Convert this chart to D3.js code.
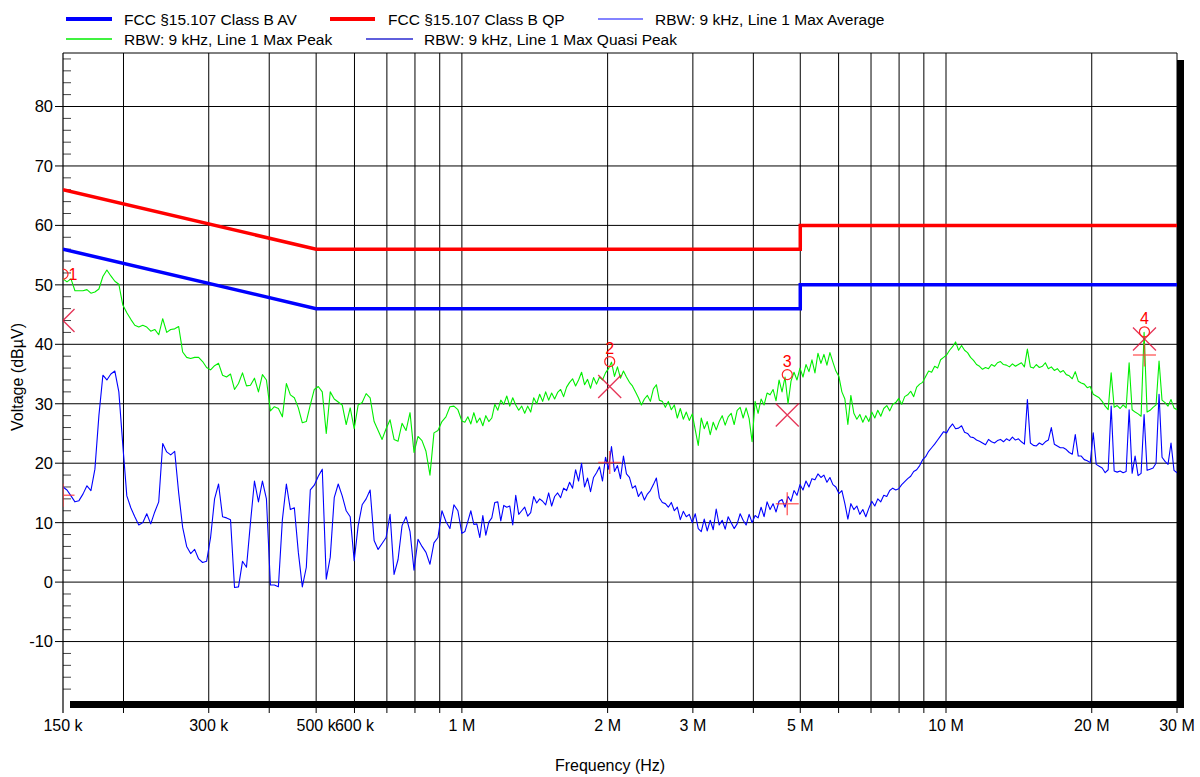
<!DOCTYPE html>
<html>
<head>
<meta charset="utf-8">
<script src="https://cdn.jsdelivr.net/npm/d3@7"></script>
<style>
  html, body { margin: 0; padding: 0; background: #fff; }
  svg text { font-family: "Liberation Sans", Arial, Helvetica, sans-serif; fill: #000; }
</style>
</head>
<body>
<svg id="chart" width="1200" height="777"></svg>
<script>
// ---- receiver sweep: two log-spaced bands (MHz) ----
const lowBandStartMHz = 0.15;
const lowBandStopMHz = 1;
const highBandStartMHz = 1;
const highBandStopMHz = 30;

// RBW 9 kHz, Line 1, max peak detector (dBµV), 150 kHz - 1 MHz
const peakLow = [
  51.0, 50.5, 51.0, 49.0, 49.0, 49.0, 49.2, 48.6, 48.8, 49.3,
  51.4, 52.5, 51.5, 50.6, 50.1, 46.6, 45.3, 44.2, 43.2, 42.9,
  43.2, 42.9, 42.2, 42.5, 41.6, 44.3, 42.0, 42.5, 42.6, 43.0,
  38.7, 37.8, 37.6, 37.8, 37.8, 37.1, 36.1, 35.7, 36.4, 36.8,
  34.8, 34.5, 35.0, 32.4, 33.4, 35.2, 33.0, 33.1, 34.3, 32.0,
  34.9, 34.0, 28.8, 29.5, 29.2, 27.8, 33.4, 31.5, 31.0, 29.3,
  26.8, 27.0, 29.8, 32.4, 32.9, 32.0, 25.0, 32.0, 30.8, 30.3,
  29.8, 26.5, 29.3, 25.8, 29.8, 30.2, 31.7, 31.0, 27.0, 25.5,
  24.0, 25.8, 27.3, 24.0, 23.7, 26.7, 25.5, 28.5, 21.8, 24.5,
  23.8, 22.0, 18.0, 25.1, 25.5, 27.0, 27.8, 29.5, 29.6, 29.0,
  27.1
];

// max peak, 1 MHz - 30 MHz
const peakHigh = [
  28.0, 26.9, 27.8, 26.6, 28.5, 26.8, 27.6, 26.3, 28.0, 27.0,
  27.6, 29.9, 28.9, 30.6, 29.9, 31.3, 29.6, 31.0, 29.8, 28.9,
  29.6, 28.4, 29.6, 28.6, 31.0, 30.0, 31.6, 30.4, 32.0, 30.6,
  31.8, 30.8, 31.9, 32.4, 31.2, 32.8, 33.6, 34.2, 33.0, 34.0,
  35.3, 33.2, 34.1, 32.6, 34.4, 33.3, 34.5, 34.0, 35.2, 35.9,
  37.0, 34.6, 36.2, 34.3, 35.5, 34.5, 33.6, 33.0, 32.0, 31.0,
  29.8, 30.8, 31.4, 30.4, 32.5, 33.2, 30.6, 30.4, 29.4, 30.4,
  29.0, 29.8, 27.6, 29.2, 27.4, 28.6, 27.2, 28.3, 25.6, 23.0,
  27.6, 25.8, 27.0, 24.8, 26.9, 25.6, 27.0, 28.0, 26.4, 27.8,
  28.4, 26.5, 28.9, 29.4, 27.6, 29.3, 27.5, 23.6, 30.4, 28.4,
  30.8, 29.8, 31.8, 31.5, 32.4, 30.5, 34.0, 32.0, 34.5, 30.0,
  33.8, 35.3, 34.0, 36.0, 34.5, 36.6, 35.4, 37.4, 35.2, 38.5,
  36.8, 38.3, 36.5, 38.6, 37.0, 35.5, 34.6, 32.0, 30.8, 26.5,
  31.4, 28.4, 27.4, 28.2, 26.9, 28.0, 27.0, 28.6, 27.6, 28.9,
  27.9, 29.2, 29.7, 28.8, 29.9, 30.2, 30.9, 29.9, 31.2, 31.5,
  32.1, 31.2, 32.8, 33.3, 33.6, 34.6, 35.5, 35.3, 36.3, 36.0,
  37.4, 37.8, 38.2, 39.0, 39.6, 40.4, 39.0, 39.8, 39.0, 38.6,
  37.8, 37.3, 36.6, 36.3, 35.8, 36.1, 35.9, 36.6, 36.3, 36.9,
  37.1, 36.6, 36.5, 36.2, 36.7, 36.3, 36.6, 36.9, 36.2, 39.2,
  36.2, 36.0, 36.6, 36.1, 36.3, 36.9, 35.9, 36.2, 35.6, 35.9,
  35.3, 35.6, 34.9, 34.7, 34.2, 35.4, 33.8, 33.5, 33.3, 32.7,
  32.9, 31.6, 31.3, 31.0, 30.4, 29.6, 29.0, 35.2, 29.4, 29.7,
  29.2, 29.8, 29.3, 36.9, 29.0, 28.6, 28.3, 27.9, 42.0, 28.6,
  28.9, 29.4, 29.8, 37.2, 30.6, 30.2, 29.6, 30.7, 29.3, 29.0
];

// RBW 9 kHz, Line 1, max average detector (dBµV), 150 kHz - 1 MHz
const averageLow = [
  16.0, 15.5, 14.5, 13.5, 13.7, 14.8, 16.2, 15.4, 19.0, 28.0,
  34.8, 34.0, 35.0, 35.5, 32.0, 23.0, 14.5, 12.5, 11.0, 9.6,
  10.0, 11.5, 9.8, 11.8, 13.5, 23.3, 21.9, 21.4, 22.0, 15.0,
  9.2, 6.0, 4.8, 5.5, 3.9, 3.3, 3.5, 7.5, 14.0, 16.5,
  11.0, 10.8, 10.5, -0.9, -0.8, 3.5, 2.5, 10.0, 17.0, 13.5,
  17.0, 14.0, -0.5, -0.5, -0.8, 10.5, 16.5, 12.2, 12.5, 5.0,
  -0.8, 2.5, 15.5, 16.3, 17.8, 19.0, 0.5, 4.2, 14.2, 16.5,
  14.5, 12.0, 11.0, 3.6, 9.5, 13.0, 14.0, 15.5, 7.0, 5.5,
  6.5, 7.5, 11.4, 1.3, 3.8, 9.5, 11.0, 8.5, 2.0, 7.2,
  6.0, 5.0, 3.0, 6.6, 7.5, 12.0, 10.2, 9.0, 13.0, 12.0,
  8.2
];

// max average, 1 MHz - 30 MHz
const averageHigh = [
  10.0, 8.5, 10.2, 12.0, 9.7, 9.8, 7.5, 11.2, 7.9, 10.1,
  10.8, 13.4, 13.5, 10.3, 12.9, 12.6, 12.8, 9.6, 14.6, 11.4,
  12.0, 12.6, 11.1, 11.7, 14.4, 13.3, 14.0, 13.6, 13.0, 15.0,
  12.8, 14.4, 15.0, 14.2, 15.8, 15.4, 16.8, 15.8, 18.9, 17.0,
  20.0, 16.0, 17.5, 15.2, 17.6, 18.4, 19.4, 17.0, 21.0, 19.0,
  22.8, 18.6, 19.6, 17.4, 21.2, 18.2, 17.6, 15.8, 16.2, 14.4,
  15.2, 13.8, 14.8, 15.4, 16.4, 17.5, 14.2, 13.4, 13.2, 12.6,
  13.4, 12.0, 12.6, 10.5, 11.9, 11.0, 11.4, 10.0, 11.5, 9.0,
  8.5, 10.6, 8.6, 10.4, 8.8, 12.3, 9.6, 10.4, 8.9, 11.0,
  10.0, 9.0, 9.8, 11.5, 10.4, 9.6, 11.4, 10.0, 11.2, 10.8,
  12.6, 11.0, 13.5, 12.2, 13.2, 11.8, 13.6, 13.9, 12.6, 14.4,
  13.6, 15.4, 14.6, 16.4, 15.5, 17.0, 16.0, 17.4, 17.2, 18.2,
  17.6, 18.0, 16.8, 17.6, 16.4, 16.0, 14.9, 15.4, 13.2, 10.6,
  13.2, 12.2, 12.8, 11.4, 12.2, 11.0, 12.4, 13.6, 12.8, 14.0,
  13.5, 14.6, 14.4, 15.4, 15.8, 15.5, 15.7, 16.4, 16.9, 17.4,
  17.8, 18.6, 18.9, 19.6, 20.6, 21.1, 22.0, 22.6, 23.2, 23.9,
  24.6, 25.3, 25.1, 26.0, 26.6, 25.8, 25.9, 26.3, 25.2, 25.0,
  24.4, 24.3, 23.9, 23.7, 23.4, 23.1, 24.0, 23.6, 23.4, 23.8,
  24.0, 23.6, 24.1, 23.8, 24.4, 23.9, 24.1, 23.6, 23.2, 30.7,
  23.4, 23.0, 22.9, 23.4, 23.1, 23.6, 23.9, 26.0, 23.2, 22.9,
  22.6, 22.6, 22.3, 21.8, 21.5, 24.8, 21.2, 21.2, 20.6, 20.4,
  20.1, 25.1, 19.8, 19.5, 19.2, 18.4, 18.9, 29.6, 18.7, 18.5,
  18.7, 18.4, 18.6, 29.0, 18.3, 21.2, 17.9, 18.3, 28.2, 18.8,
  19.0, 19.2, 20.0, 31.6, 21.0, 20.3, 19.8, 23.4, 18.8, 18.4
];

// FCC §15.107 Class B limits (breakpoints, MHz / dBµV)
const avLimitFreqs = [0.15, 0.5, 5, 5, 30];
const avLimitDb    = [56, 46, 46, 50, 50];
const qpLimitFreqs = [0.15, 0.5, 5, 5, 30];
const qpLimitDb    = [66, 56, 56, 60, 60];

// Markers: peak (circle), quasi-peak (cross), average (plus)
const markerIds    = ["1", "2", "3", "4"];
const markerFreqs  = [0.15, 2.02, 4.70, 25.7];
const markerPeakDb = [51.8, 37.1, 34.9, 42.1];
const markerQpDb   = [44.0, 32.9, 28.1, 40.9];
const markerAvgDb  = [14.6, 20.1, 13.2, 38.2];

// Axes
const xGridFreqs  = [0.2, 0.3, 0.4, 0.5, 0.6, 0.7, 0.8, 0.9, 1, 2, 3, 4, 5, 6, 7, 8, 9, 10, 20, 30];
const xLabelFreqs = [0.15, 0.3, 0.5, 0.6, 1, 2, 3, 5, 10, 20, 30];
const xLabelTexts = ["150 k", "300 k", "500 k", "600 k", "1 M", "2 M", "3 M", "5 M", "10 M", "20 M", "30 M"];
const yMajorTicks = [-10, 0, 10, 20, 30, 40, 50, 60, 70, 80];
const yMinorTicks = [-18, -16, -14, -12, -8, -6, -4, -2, 2, 4, 6, 8, 12, 14, 16, 18, 22, 24, 26, 28,
                     32, 34, 36, 38, 42, 44, 46, 48, 52, 54, 56, 58, 62, 64, 66, 68, 72, 74, 76, 78,
                     82, 84, 86, 88];

// ---- layout ----
const plot = { left: 63, top: 53, right: 1177, bottom: 701 };
const shadowOffset = 7;

const svg = d3.select("#chart");

const x = d3.scaleLog().domain([lowBandStartMHz, highBandStopMHz]).range([plot.left, plot.right]);
const y = d3.scaleLinear().domain([-20, 89]).range([plot.bottom, plot.top]);

// sample frequencies of a log-spaced band
function bandFreqs(start, stop, n) {
  return d3.range(n).map(i => start * Math.pow(stop / start, i / (n - 1)));
}
function bandPoints(start, stop, values) {
  const f = bandFreqs(start, stop, values.length);
  return values.map((v, i) => [f[i], v]);
}
const peakPoints = bandPoints(lowBandStartMHz, lowBandStopMHz, peakLow)
  .concat(bandPoints(highBandStartMHz, highBandStopMHz, peakHigh).slice(1));
const averagePoints = bandPoints(lowBandStartMHz, lowBandStopMHz, averageLow)
  .concat(bandPoints(highBandStartMHz, highBandStopMHz, averageHigh).slice(1));

// drop shadow and plot background
svg.append("rect")
  .attr("x", plot.left + shadowOffset).attr("y", plot.top + shadowOffset)
  .attr("width", plot.right - plot.left).attr("height", plot.bottom - plot.top)
  .attr("fill", "#000");
svg.append("rect")
  .attr("x", plot.left).attr("y", plot.top)
  .attr("width", plot.right - plot.left).attr("height", plot.bottom - plot.top)
  .attr("fill", "#fff");

svg.append("clipPath").attr("id", "plotClip")
  .append("rect")
  .attr("x", plot.left).attr("y", plot.top)
  .attr("width", plot.right - plot.left).attr("height", plot.bottom - plot.top);

// grid
const grid = svg.append("g");
grid.selectAll("line.h").data(yMajorTicks).join("line")
  .attr("x1", plot.left).attr("x2", plot.right)
  .attr("y1", d => y(d)).attr("y2", d => y(d))
  .attr("stroke", "#000").attr("stroke-width", 1);
grid.selectAll("line.v").data(xGridFreqs).join("line")
  .attr("x1", d => x(d)).attr("x2", d => x(d))
  .attr("y1", plot.top).attr("y2", plot.bottom + 12)
  .attr("stroke", "#000").attr("stroke-width", 1);

// y minor ticks (inside)
grid.selectAll("line.ym").data(yMinorTicks).join("line")
  .attr("x1", plot.left).attr("x2", plot.left + 8)
  .attr("y1", d => y(d)).attr("y2", d => y(d))
  .attr("stroke", "#444").attr("stroke-width", 1);

// frame
svg.append("line")
  .attr("x1", plot.left).attr("x2", plot.right)
  .attr("y1", plot.top).attr("y2", plot.top)
  .attr("stroke", "#000").attr("stroke-width", 1);
svg.append("line")
  .attr("x1", plot.left).attr("x2", plot.left)
  .attr("y1", plot.top).attr("y2", plot.bottom + 12)
  .attr("stroke", "#000").attr("stroke-width", 1.2);

// y axis: major ticks outside + labels
const yAxis = svg.append("g");
yAxis.selectAll("line").data(yMajorTicks).join("line")
  .attr("x1", plot.left - 8).attr("x2", plot.left)
  .attr("y1", d => y(d)).attr("y2", d => y(d))
  .attr("stroke", "#000").attr("stroke-width", 1);
yAxis.selectAll("text").data(yMajorTicks).join("text")
  .attr("x", plot.left - 10).attr("y", d => y(d))
  .attr("dy", "0.36em")
  .attr("text-anchor", "end")
  .attr("font-size", "16.5px")
  .text(d => d);

// x axis labels
svg.append("g").selectAll("text").data(xLabelFreqs).join("text")
  .attr("x", d => x(d)).attr("y", 731)
  .attr("text-anchor", "middle")
  .attr("font-size", "16px")
  .text((d, i) => xLabelTexts[i]);

// axis titles
svg.append("text")
  .attr("transform", `translate(23, ${(plot.top + plot.bottom) / 2}) rotate(-90)`)
  .attr("text-anchor", "middle")
  .attr("font-size", "16px")
  .text("Voltage (dBµV)");
svg.append("text")
  .attr("x", 610).attr("y", 771)
  .attr("text-anchor", "middle")
  .attr("font-size", "16px")
  .text("Frequency (Hz)");

// data layer
const data = svg.append("g").attr("clip-path", "url(#plotClip)");
const traceLine = d3.line().x(d => x(d[0])).y(d => y(d[1]));

data.append("path")
  .datum(peakPoints)
  .attr("d", traceLine)
  .attr("fill", "none").attr("stroke", "#00ee00").attr("stroke-width", 1.1)
  .attr("stroke-linejoin", "round");
data.append("path")
  .datum(averagePoints)
  .attr("d", traceLine)
  .attr("fill", "none").attr("stroke", "#0000ff").attr("stroke-width", 1.1)
  .attr("stroke-linejoin", "round");

data.append("path")
  .datum(avLimitFreqs.map((f, i) => [f, avLimitDb[i]]))
  .attr("d", traceLine)
  .attr("fill", "none").attr("stroke", "#0000ff").attr("stroke-width", 3.5);
data.append("path")
  .datum(qpLimitFreqs.map((f, i) => [f, qpLimitDb[i]]))
  .attr("d", traceLine)
  .attr("fill", "none").attr("stroke", "#ff0000").attr("stroke-width", 3.5);

// markers
const arm = 11.5;
const markers = markerIds.map((id, i) => ({
  id, f: markerFreqs[i], pk: markerPeakDb[i], qp: markerQpDb[i], av: markerAvgDb[i]
}));
const mk = data.append("g");
markers.forEach(m => {
  const mx = x(m.f);
  // average: plus
  mk.append("path")
    .attr("d", `M${mx - arm},${y(m.av)}H${mx + arm}M${mx},${y(m.av) - arm}V${y(m.av) + arm}`)
    .attr("stroke", "#ff3030").attr("stroke-opacity", 0.7).attr("stroke-width", 1.5).attr("fill", "none");
  // quasi-peak: cross
  mk.append("path")
    .attr("d", `M${mx - arm},${y(m.qp) - arm}L${mx + arm},${y(m.qp) + arm}M${mx - arm},${y(m.qp) + arm}L${mx + arm},${y(m.qp) - arm}`)
    .attr("stroke", "#e0103a").attr("stroke-opacity", 0.85).attr("stroke-width", 1.3).attr("fill", "none");
  // peak: circle
  mk.append("circle")
    .attr("cx", mx).attr("cy", y(m.pk)).attr("r", 5)
    .attr("fill", "none").attr("stroke", "#ff2020").attr("stroke-width", 1.2);
});

// marker numbers
svg.append("g").selectAll("text").data(markers).join("text")
  .attr("x", (m, i) => i === 0 ? x(m.f) + 10 : x(m.f))
  .attr("y", (m, i) => i === 0 ? y(m.pk) + 6 : y(m.pk) - 8)
  .attr("text-anchor", "middle")
  .attr("font-size", "16px")
  .style("fill", "#ff0000")
  .text(m => m.id);

// legend
const legendRows = [
  [
    { x1: 66, x2: 112, tx: 124, color: "#0000ff", w: 4, label: "FCC §15.107 Class B AV" },
    { x1: 330, x2: 375, tx: 388, color: "#ff0000", w: 4, label: "FCC §15.107 Class B QP" },
    { x1: 598, x2: 643, tx: 655, color: "#5a5aff", w: 1.5, label: "RBW: 9 kHz, Line 1 Max Average" }
  ],
  [
    { x1: 66, x2: 112, tx: 124, color: "#00ee00", w: 1.5, label: "RBW: 9 kHz, Line 1 Max Peak" },
    { x1: 366, x2: 413, tx: 424, color: "#2a2ad0", w: 1.5, label: "RBW: 9 kHz, Line 1 Max Quasi Peak" }
  ]
];
const legendY = [19, 39];
const legend = svg.append("g");
legendRows.forEach((row, r) => {
  row.forEach(item => {
    legend.append("line")
      .attr("x1", item.x1).attr("x2", item.x2)
      .attr("y1", legendY[r]).attr("y2", legendY[r])
      .attr("stroke", item.color).attr("stroke-width", item.w);
    legend.append("text")
      .attr("x", item.tx).attr("y", legendY[r])
      .attr("dy", "0.36em")
      .attr("font-size", "15.5px")
      .text(item.label);
  });
});
</script>
</body>
</html>
